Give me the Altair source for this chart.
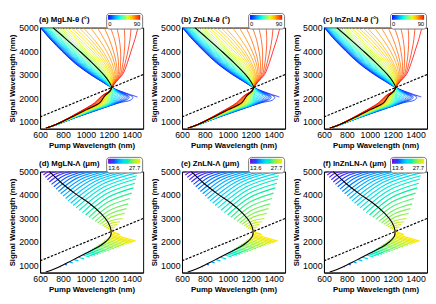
import altair as alt
import pandas as pd

FONT = "Liberation Sans"

# ---------------- top row: phase-matching angle curves ----------------
THETA = [0, 2.5, 5, 7.5, 10, 12.5, 15, 17.5, 20, 22.5, 25, 27.5, 30, 32.5, 35, 37.5, 40, 42.5, 45,
         47.5, 50, 52.5, 55, 57.5, 60, 62.5, 65, 67.5, 70, 72.5, 75, 77.5, 80, 82.5, 85, 87.5, 90]
S_UP = [5000, 4500, 4000, 3500, 3000, 2700, 2450]
UP_PUMP = [
    [603, 690, 790, 900, 1040, 1140, 1225],
    [605, 693, 794, 904, 1044, 1143, 1225],
    [606, 695, 797, 908, 1047, 1145, 1225],
    [608, 699, 801, 913, 1051, 1148, 1225],
    [610, 702, 805, 917, 1055, 1150, 1225],
    [613, 707, 811, 923, 1060, 1153, 1225],
    [616, 711, 816, 929, 1065, 1156, 1225],
    [620, 717, 823, 936, 1071, 1159, 1225],
    [624, 722, 829, 943, 1076, 1162, 1225],
    [629, 729, 837, 952, 1083, 1166, 1225],
    [634, 736, 845, 960, 1089, 1169, 1225],
    [641, 745, 855, 970, 1096, 1173, 1225],
    [647, 753, 864, 980, 1103, 1177, 1225],
    [655, 763, 875, 991, 1111, 1181, 1225],
    [663, 773, 886, 1002, 1119, 1185, 1225],
    [674, 785, 899, 1014, 1128, 1189, 1225],
    [684, 797, 911, 1026, 1136, 1193, 1225],
    [697, 812, 926, 1039, 1145, 1197, 1225],
    [710, 826, 940, 1052, 1154, 1201, 1225],
    [726, 844, 957, 1066, 1163, 1205, 1225],
    [742, 861, 974, 1080, 1172, 1209, 1225],
    [763, 882, 993, 1095, 1181, 1213, 1225],
    [783, 903, 1012, 1110, 1190, 1216, 1225],
    [809, 928, 1034, 1126, 1199, 1219, 1225],
    [835, 953, 1055, 1142, 1208, 1222, 1225],
    [868, 982, 1078, 1159, 1217, 1226, 1225],
    [900, 1010, 1101, 1175, 1226, 1229, 1225],
    [938, 1040, 1125, 1191, 1234, 1233, 1225],
    [975, 1070, 1148, 1206, 1242, 1236, 1225],
    [1040, 1115, 1180, 1228, 1252, 1240, 1225],
    [1100, 1160, 1212, 1248, 1262, 1244, 1225],
    [1160, 1205, 1240, 1265, 1272, 1248, 1225],
    [1215, 1250, 1272, 1285, 1282, 1252, 1225],
    [1270, 1292, 1303, 1303, 1292, 1256, 1225],
    [1335, 1340, 1336, 1324, 1302, 1259, 1225],
    [1395, 1385, 1367, 1343, 1311, 1262, 1225],
    [1455, 1428, 1395, 1362, 1320, 1265, 1225],
]
S_LO = [2450, 2300, 2100, 1800, 1500, 1200, 900, 720]
LO_PUMP = [
    [1225, 1300, 1380, 1450],
    [1225, 1295, 1365, 1410, 1392, 1290, 1106, 926, 761, 652],
    [1225, 1290, 1350, 1380, 1360, 1282, 1102, 924, 760, 652],
    [1225, 1285, 1340, 1368, 1350, 1276, 1098, 922, 760, 652],
    [1225, 1280, 1330, 1355, 1340, 1270, 1094, 920, 759, 652],
    [1225, 1276, 1320, 1343, 1329, 1264, 1091, 919, 758, 652],
    [1225, 1272, 1310, 1330, 1318, 1257, 1087, 917, 758, 652],
    [1225, 1267, 1301, 1318, 1307, 1251, 1083, 915, 757, 652],
    [1225, 1262, 1292, 1305, 1295, 1245, 1079, 913, 757, 652],
    [1225, 1259, 1284, 1294, 1284, 1239, 1076, 912, 756, 652],
    [1225, 1255, 1275, 1282, 1272, 1232, 1072, 910, 756, 652],
    [1225, 1251, 1267, 1272, 1262, 1226, 1068, 908, 756, 651],
    [1225, 1247, 1259, 1262, 1252, 1220, 1064, 906, 755, 651],
    [1225, 1244, 1253, 1253, 1242, 1215, 1061, 905, 755, 651],
    [1225, 1240, 1246, 1244, 1232, 1210, 1058, 903, 755, 651],
    [1225, 1236, 1239, 1233, 1204, 1054, 902, 755, 651],
    [1225, 1232, 1232, 1222, 1197, 1050, 900, 754, 651],
    [1225, 1226, 1214, 1191, 1046, 898, 754, 651],
    [1225, 1222, 1205, 1185, 1042, 896, 753, 651],
    [1225, 1221, 1201, 1179, 1039, 895, 753, 651],
    [1225, 1220, 1197, 1172, 1035, 893, 752, 651],
    [1225, 1219, 1193, 1166, 1031, 891, 752, 651],
    [1225, 1218, 1189, 1160, 1027, 889, 751, 651],
    [1225, 1217, 1185, 1154, 1023, 888, 751, 651],
    [1225, 1216, 1181, 1147, 1019, 886, 750, 651],
    [1225, 1215, 1177, 1141, 1016, 884, 750, 651],
    [1225, 1214, 1173, 1135, 1012, 882, 749, 651],
    [1225, 1213, 1169, 1130, 1009, 881, 749, 651],
    [1225, 1212, 1165, 1125, 1005, 879, 749, 650],
    [1225, 1211, 1161, 1118, 1001, 877, 748, 650],
    [1225, 1210, 1158, 1112, 998, 876, 748, 650],
    [1225, 1209, 1154, 1106, 994, 874, 747, 650],
    [1225, 1209, 1151, 1100, 990, 872, 747, 650],
    [1225, 1208, 1148, 1093, 986, 870, 746, 650],
    [1225, 1207, 1145, 1087, 983, 869, 746, 650],
    [1225, 1206, 1142, 1081, 979, 867, 745, 650],
    [1225, 1205, 1140, 1075, 975, 865, 745, 650],
]
LO_SIG = [
    [2450, 2300, 2160, 2050],
    [2450, 2295, 2155, 2045, 1920, 1800, 1500, 1200, 900, 720],
    [2450, 2290, 2150, 2040, 1940, 1800, 1500, 1200, 900, 720],
    [2450, 2295, 2160, 2055, 1955, 1800, 1500, 1200, 900, 720],
    [2450, 2300, 2170, 2070, 1970, 1800, 1500, 1200, 900, 720],
    [2450, 2305, 2180, 2085, 1990, 1800, 1500, 1200, 900, 720],
    [2450, 2310, 2190, 2100, 2010, 1800, 1500, 1200, 900, 720],
    [2450, 2315, 2200, 2115, 2030, 1800, 1500, 1200, 900, 720],
    [2450, 2320, 2210, 2130, 2050, 1800, 1500, 1200, 900, 720],
    [2450, 2325, 2225, 2150, 2070, 1800, 1500, 1200, 900, 720],
    [2450, 2330, 2240, 2170, 2090, 1800, 1500, 1200, 900, 720],
    [2450, 2340, 2255, 2190, 2110, 1800, 1500, 1200, 900, 720],
    [2450, 2350, 2270, 2210, 2130, 1800, 1500, 1200, 900, 720],
    [2450, 2360, 2285, 2225, 2150, 1800, 1500, 1200, 900, 720],
    [2450, 2370, 2300, 2240, 2170, 1800, 1500, 1200, 900, 720],
    [2450, 2360, 2275, 2170, 1800, 1500, 1200, 900, 720],
    [2450, 2350, 2250, 2100, 1800, 1500, 1200, 900, 720],
] + [S_LO] * 20

BLACK_UP_PUMP = [712, 830, 945, 1055, 1155, 1202, 1225]
BLACK_LO_PUMP = [1225, 1212, 1165, 1120, 1000, 878, 749, 650]
BLACK_LO_SIG = [2450, 2300, 2100, 1800, 1500, 1200, 900, 720]

DEG_PUMP = [600, 1500]
DEG_SIG = [1200, 3000]

# ---------------- bottom row: poling-period curves ----------------
LAM = [13.6, 14.1, 14.6, 15.1, 15.5, 16.0, 16.5, 17.0, 17.5, 18.0,
       18.5, 18.9, 19.4, 19.9, 20.4, 20.9, 21.4, 21.9, 22.4, 22.8,
       23.3, 23.8, 24.3, 24.8, 25.3, 25.8, 26.3, 26.7, 27.2, 27.7]
FAN_P = [
    [612, 625, 640], [629, 657, 690], [646, 691, 745], [664, 729, 805], [681, 765, 865],
    [700, 803, 925], [720, 842, 985], [740, 880, 1045], [760, 918, 1105], [780, 957, 1165],
    [801, 995, 1225], [823, 1035, 1285], [845, 1074, 1345], [867, 1113, 1405], [889, 1147, 1452],
    [914, 1157, 1445], [942, 1167, 1437], [970, 1178, 1428], [998, 1187, 1415], [1026, 1196, 1400],
    [1053, 1204, 1385], [1080, 1213, 1370], [1103, 1219, 1355], [1123, 1224, 1340], [1143, 1226, 1320],
    [1160, 1225, 1298], [1177, 1223, 1275], [1191, 1223, 1258], [1205, 1223, 1242], [1215, 1223, 1230],
]
FAN_S = [
    [4950, 4986, 5000], [4850, 4948, 5000], [4750, 4913, 5000], [4650, 4879, 5000], [4550, 4845, 5000],
    [4450, 4811, 5000], [4350, 4776, 5000], [4250, 4742, 5000], [4150, 4707, 5000], [4050, 4672, 5000],
    [3950, 4637, 5000], [3850, 4601, 5000], [3750, 4566, 5000], [3650, 4531, 5000], [3550, 4465, 4950],
    [3450, 4338, 4820], [3350, 4204, 4680], [3250, 4050, 4500], [3150, 3884, 4300], [3050, 3708, 4080],
    [2960, 3532, 3850], [2880, 3361, 3620], [2810, 3211, 3420], [2750, 3068, 3220], [2690, 2913, 3000],
    [2640, 2803, 2860], [2590, 2702, 2740], [2550, 2621, 2640], [2510, 2544, 2550], [2480, 2488, 2490],
]
WEDGE_LAM = [27.7, 27.3, 27.0, 26.6, 26.2, 25.9, 25.5, 25.1, 24.8, 24.4, 24.0, 23.6, 23.3,
             22.9, 22.5, 22.1, 21.8, 21.4, 21.0, 20.3, 19.5, 18.1, 16.6, 15.1, 27.7, 27.7]
WEDGE_P = [
    [1215, 1436], [1210, 1418], [1204, 1399], [1194, 1378], [1184, 1357], [1171, 1335],
    [1157, 1313], [1144, 1291], [1130, 1268], [1116, 1246], [1102, 1223], [1087, 1200],
    [1072, 1177], [1056, 1153], [1039, 1129], [1023, 1106], [1006, 1082], [989, 1058],
    [972, 1034], [936, 985], [899, 935], [860, 885], [818, 834], [777, 783],
    [1232, 1290], [1236, 1300],
]
WEDGE_S = [
    [2350, 2037], [2300, 2006], [2250, 1974], [2200, 1940], [2150, 1905], [2100, 1868],
    [2050, 1830], [2000, 1793], [1950, 1755], [1900, 1717], [1850, 1679], [1800, 1641],
    [1750, 1602], [1700, 1563], [1650, 1523], [1600, 1483], [1550, 1443], [1500, 1403],
    [1450, 1363], [1350, 1281], [1250, 1198], [1150, 1114], [1050, 1028], [950, 942],
    [2420, 2340], [2390, 2300],
]
BLACK2_P = [680, 790, 910, 1030, 1135, 1192, 1220, 1215, 1170, 1110, 1000, 880, 760, 650]
BLACK2_S = [5000, 4500, 4050, 3650, 3200, 2850, 2500, 2250, 2000, 1800, 1520, 1220, 930, 720]

JET = ["#0000ff", "#0060ff", "#00c0ff", "#20ffe0", "#80ff80", "#e0ff20", "#ffc000", "#ff6000", "#ff0000"]
LAMC = ["#6a00d8", "#2a3cff", "#00a8ff", "#00e6e6", "#40f080", "#b0f030", "#ffe800"]

TOP_TITLES = ["(a) MgLN-θ (°)", "(b) ZnLN-θ (°)", "(c) InZnLN-θ (°)"]
BOT_TITLES = ["(d) MgLN-Λ (μm)", "(e) ZnLN-Λ (μm)", "(f) InZnLN-Λ (μm)"]

# ---------- tables ----------
rows = []
for i, th in enumerate(THETA):
    pts = list(zip(UP_PUMP[i], S_UP)) + list(zip(LO_PUMP[i][1:], LO_SIG[i][1:]))
    for j, (p, s) in enumerate(pts):
        rows.append(dict(curve=i, val=th, pump=p, signal=s, order=j))
df_theta = pd.DataFrame(rows)

bl = list(zip(BLACK_UP_PUMP, S_UP)) + list(zip(BLACK_LO_PUMP[1:], BLACK_LO_SIG[1:]))
df_black = pd.DataFrame([dict(pump=p, signal=s, order=j) for j, (p, s) in enumerate(bl)])
df_black2 = pd.DataFrame([dict(pump=p, signal=s, order=j) for j, (p, s) in enumerate(zip(BLACK2_P, BLACK2_S))])
df_deg = pd.DataFrame(dict(pump=DEG_PUMP, signal=DEG_SIG))

rows = []
for i, lam in enumerate(LAM):
    for j in range(3):
        rows.append(dict(curve=i, val=lam, pump=FAN_P[i][j], signal=FAN_S[i][j], order=j))
for i, lam in enumerate(WEDGE_LAM):
    for j in range(2):
        rows.append(dict(curve=100 + i, val=lam, pump=WEDGE_P[i][j], signal=WEDGE_S[i][j], order=j))
df_lam = pd.DataFrame(rows)

W, H = 106, 104

xenc = alt.X("pump:Q", scale=alt.Scale(domain=[600, 1500], nice=False, zero=False),
             axis=alt.Axis(values=[600, 800, 1000, 1200, 1400], format="d", title="Pump Wavelength (nm)",
                           ticks=False, labelFlush=False, labelOverlap=False))
yenc = alt.Y("signal:Q", scale=alt.Scale(domain=[700, 5000], nice=False, zero=False),
             axis=alt.Axis(values=[1000, 2000, 3000, 4000, 5000], format="d", title="Signal Wavelength (nm)",
                           ticks=False, labelFlush=False, labelOverlap=False))


def panel(title, df, black_df, cdomain, crange, lvals, lfmt, sw):
    colored = alt.Chart(df).mark_line(interpolate="catmull-rom", strokeWidth=sw, clip=True).encode(
        x=xenc, y=yenc, detail="curve:N", order="order:Q",
        color=alt.Color("val:Q", scale=alt.Scale(domain=cdomain, range=crange),
                        legend=alt.Legend(orient="none", legendX=68, legendY=-15, direction="horizontal",
                                          gradientLength=33, gradientThickness=5, title=None, values=lvals,
                                          format=lfmt, labelFontSize=6, labelFont=FONT, fillColor="white",
                                          strokeColor="#777", cornerRadius=3, padding=2, labelOffset=1)),
    )
    black = alt.Chart(black_df).mark_line(interpolate="catmull-rom", color="black", strokeWidth=1.1, clip=True).encode(
        x=xenc, y=yenc, order="order:Q")
    deg = alt.Chart(df_deg).mark_line(color="black", strokeDash=[2.5, 1.5], strokeWidth=1.2, clip=True).encode(
        x=xenc, y=yenc)
    ttl = alt.Chart(pd.DataFrame({"t": [title]})).mark_text(
        align="left", baseline="bottom", font=FONT, fontSize=8, fontWeight="bold", color="black").encode(
        text="t:N", x=alt.value(-1), y=alt.value(-4))
    return alt.layer(colored, black, deg, ttl).properties(width=W, height=H)


top = [panel(t, df_theta, df_black, [0, 90], JET, [0, 90], "d", 0.8) for t in TOP_TITLES]
bot = [panel(t, df_lam, df_black2, [13.6, 27.7], LAMC, [13.6, 27.7], ".1f", 1.2) for t in BOT_TITLES]

chart = alt.vconcat(
    alt.hconcat(*top, spacing=6).resolve_scale(color="independent").resolve_legend(color="independent"),
    alt.hconcat(*bot, spacing=6).resolve_scale(color="independent").resolve_legend(color="independent"),
    spacing=6,
).resolve_scale(color="independent").resolve_legend(color="independent").properties(padding=0).configure_axis(
    labelFont=FONT, labelFontSize=9, labelColor="black", titleFont=FONT, titleFontSize=8,
    titleFontWeight="bold", titleColor="black", domainColor="black", labelPadding=2, titlePadding=2,
    grid=False,
).configure_view(stroke="black", strokeWidth=1)

chart.save("out.html", embed_options={"renderer": "svg", "actions": False})
